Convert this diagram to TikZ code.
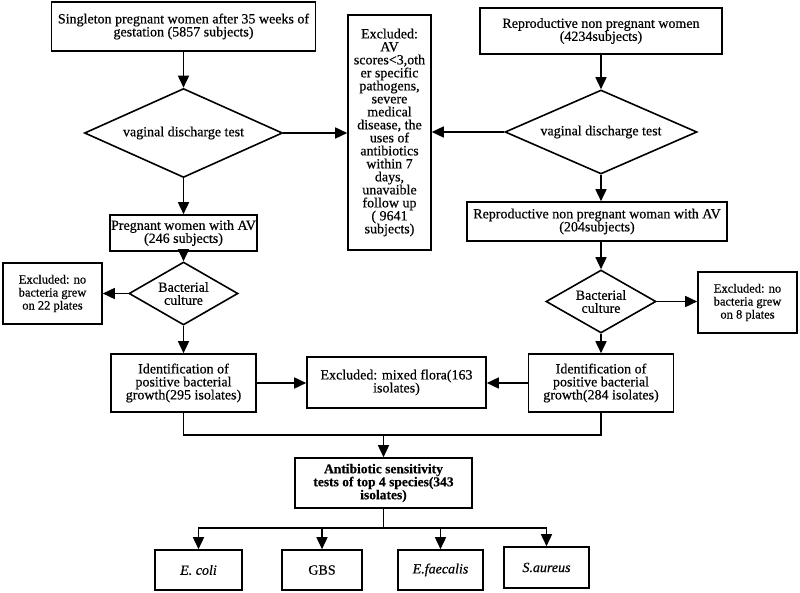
\documentclass[tikz,border=0pt]{standalone}
\usepackage{fontspec}
\setmainfont{Liberation Serif}[FakeBold=0.5]
\usetikzlibrary{arrows.meta,shapes.geometric}
\newcommand\mfs{\fontsize{14}{13}\selectfont}
\newcommand\sfs{\fontsize{12.5}{13}\selectfont}
\newcommand\bfs{\fontsize{13.5}{13}\selectfont\bfseries}
\begin{document}
\begin{tikzpicture}[x=1pt,y=-1pt,
  box/.style={draw, line width=1.6pt, align=center, inner sep=1pt, font=\mfs},
  smallbox/.style={box, font=\sfs},
  boldbox/.style={box, font=\bfs},
  dia/.style={draw, diamond, inner sep=0pt, line width=1.6pt, align=center, font=\mfs},
  arr/.style={-{Triangle[length=12pt,width=11pt]}, line width=1.6pt},
  ln/.style={line width=1.6pt}]
\useasboundingbox (0,0) rectangle (800,593);

% left column
\node[box, minimum width=264pt, minimum height=49pt] (top1) at (183.5,26.5)
  {Singleton pregnant women after 35 weeks of\\gestation (5857 subjects)};
\node[dia, aspect=2.2, minimum width=198pt, minimum height=89pt] (dia1) at (183.5,133)
  {vaginal discharge test};
\node[box, minimum width=147pt, minimum height=36pt] (preg) at (183.5,233)
  {Pregnant women with AV\\(246 subjects)};
\node[dia, aspect=1.7, minimum width=109pt, minimum height=63pt] (dia2) at (183.5,293.5)
  {Bacterial\\culture};
\node[smallbox, minimum width=99pt, minimum height=61pt] (exL) at (52.5,293.5)
  {Excluded: no\\bacteria grew\\on 22 plates};
\node[box, minimum width=145pt, minimum height=58pt] (idL) at (183.5,383)
  {Identification of\\positive bacterial\\growth(295 isolates)};

% middle
\node[box, minimum width=83pt, minimum height=235pt] (excl) at (389.5,132.5)
  {Excluded:\\AV\\scores<3,oth\\er specific\\pathogens,\\severe\\medical\\disease, the\\uses of\\antibiotics\\within 7\\days,\\unavaible\\follow up\\( 9641\\subjects)};
\node[box, minimum width=179pt, minimum height=51pt] (mixed) at (396.5,382.5)
  {Excluded: mixed flora(163\\isolates)};

% right column
\node[box, minimum width=242pt, minimum height=46pt] (top2) at (601,31)
  {Reproductive non pregnant women\\(4234subjects)};
\node[dia, aspect=2.2, minimum width=192pt, minimum height=84pt] (dia3) at (601,132)
  {vaginal discharge test};
\node[box, minimum width=260pt, minimum height=39pt] (avR) at (597,221.5)
  {Reproductive non pregnant woman with AV\\(204subjects)};
\node[dia, aspect=1.7, minimum width=110pt, minimum height=63pt] (dia4) at (601,301.5)
  {Bacterial\\culture};
\node[smallbox, minimum width=99pt, minimum height=61pt] (exR) at (747.5,302.5)
  {Excluded: no\\bacteria grew\\on 8 plates};
\node[box, minimum width=145pt, minimum height=58pt] (idR) at (601,383)
  {Identification of\\positive bacterial\\growth(284 isolates)};

% bottom
\node[boldbox, minimum width=177pt, minimum height=50pt] (anti) at (383.5,483)
  {Antibiotic sensitivity\\tests of top 4 species(343\\isolates)};
\node[box, minimum width=87pt, minimum height=40pt] (ecoli) at (198.5,570) {\itshape E. coli};
\node[box, minimum width=80pt, minimum height=40pt] (gbs) at (322,570) {GBS};
\node[box, minimum width=85pt, minimum height=40pt] (efae) at (440.5,570) {\itshape E.faecalis};
\node[box, minimum width=85pt, minimum height=41pt] (saur) at (546.5,567.5) {\itshape S.aureus};

% connectors
\draw[arr] (top1.south) -- (dia1.north);
\draw[arr] (dia1.east) -- (excl.west |- dia1.east);
\draw[arr] (dia1.south) -- (preg.north);
\draw[arr] (preg.south) -- (dia2.north);
\draw[arr] (dia2.west) -- (exL.east |- dia2.west);
\draw[arr] (dia2.south) -- (idL.north);
\draw[arr] (idL.east) -- (mixed.west |- idL.east);

\draw[arr] (top2.south) -- (dia3.north);
\draw[arr] (dia3.west) -- (excl.east |- dia3.west);
\draw[arr] (dia3.south) -- (dia3.south |- avR.north);
\draw[arr] (avR.south -| dia4.north) -- (dia4.north);
\draw[arr] (dia4.east) -- (exR.west |- dia4.east);
\draw[arr] (dia4.south) -- (idR.north);
\draw[arr] (idR.west) -- (mixed.east |- idR.west);

\coordinate (mrg) at (383.5,435);
\draw[ln] (idL.south) |- (mrg) -| (idR.south);
\draw[arr] (mrg) -- (anti.north);

\coordinate (split) at (383.5,528);
\draw[ln] (anti.south) -- (split);
\draw[arr] (split) -| (ecoli.north);
\draw[arr] (split) -| (gbs.north);
\draw[arr] (split) -| (efae.north);
\draw[arr] (split) -| (saur.north);
\end{tikzpicture}
\end{document}
